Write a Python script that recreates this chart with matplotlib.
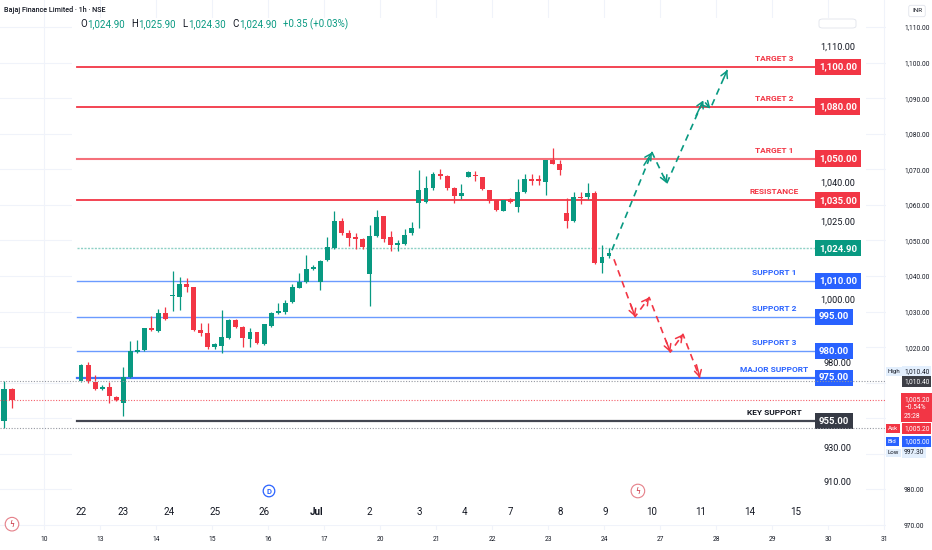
import numpy as np
import matplotlib.pyplot as plt
import matplotlib.transforms as mtransforms
from matplotlib.offsetbox import TextArea, HPacker, AnchoredOffsetbox
from matplotlib.patches import FancyBboxPatch

plt.rcParams['font.family'] = ['Roboto', 'DejaVu Sans']

#==============================================================================
#DATA
#==============================================================================

# inner chart: Bajaj Finance 1h candles, 22 Jun -> 9 Jul
inner_open = [973.6, 977.4, 973.1, 970.1, 970.8, 966.2, 963.4, 975.2, 979.8, 980.4,
              989.9, 988.6, 996.7, 1003.6, 1003.1, 1008.7, 1007.4, 989.0, 987.7, 981.7,
              982.1, 985.6, 993.7, 990.7, 985.1, 988.1, 983.0, 991.1, 996.7, 997.1,
              1001.0, 1007.0, 1009.6, 1015.4, 1009.6, 1019.5, 1024.9, 1030.6, 1028.1, 1027.0,
              1026.8, 1013.2, 1027.4, 1031.6, 1027.2, 1025.5, 1025.7, 1028.1, 1034.4, 1034.6,
              1039.3, 1044.3, 1043.6, 1039.3, 1036.4, 1043.2, 1043.9, 1043.2, 1038.6, 1035.0,
              1032.7, 1035.4, 1033.5, 1037.9, 1042.5, 1042.5, 1041.4, 1049.3, 1048.2, 1032.3,
              1030.6, 1036.1, 1036.1, 1037.5, 1018.1, 1021.3]
inner_high = [977.6, 978.0, 975.6, 971.7, 973.1, 966.6, 977.0, 984.3, 984.7, 989.9,
              995.4, 998.4, 998.9, 1014.5, 1011.8, 1011.4, 1007.4, 992.4, 992.4, 983.4,
              998.0, 994.1, 994.1, 991.1, 989.9, 988.1, 992.0, 997.1, 1000.6, 1001.9,
              1008.7, 1013.6, 1021.7, 1017.2, 1019.5, 1027.2, 1032.7, 1031.2, 1028.7, 1028.1,
              1027.0, 1029.7, 1032.9, 1031.6, 1028.5, 1026.6, 1028.9, 1030.4, 1045.7, 1043.6,
              1045.0, 1046.1, 1043.9, 1039.6, 1040.7, 1045.4, 1045.4, 1043.2, 1038.6, 1035.2,
              1035.2, 1035.7, 1042.5, 1044.6, 1044.6, 1043.9, 1049.6, 1055.8, 1049.3, 1035.7,
              1037.9, 1037.9, 1041.1, 1038.2, 1025.5, 1024.9]
inner_low = [973.1, 972.7, 969.4, 969.4, 963.4, 964.3, 957.3, 975.0, 979.6, 980.0,
             988.6, 988.1, 993.7, 997.6, 998.0, 1005.3, 988.6, 986.4, 980.9, 980.9,
             979.6, 985.1, 989.9, 981.7, 981.7, 983.0, 982.6, 990.7, 996.3, 996.3,
             1000.6, 1007.0, 1009.1, 1015.0, 1006.1, 1019.0, 1024.5, 1027.6, 1025.3, 1024.5,
             1024.5, 999.3, 1027.2, 1026.2, 1023.5, 1023.5, 1025.5, 1027.8, 1029.1, 1034.4,
             1038.6, 1042.5, 1038.6, 1034.4, 1035.4, 1043.2, 1042.1, 1038.6, 1034.4, 1032.7,
             1032.7, 1034.4, 1032.5, 1037.5, 1040.4, 1040.4, 1036.8, 1047.9, 1043.9, 1029.1,
             1030.4, 1034.2, 1035.4, 1017.7, 1013.6, 1020.4]
inner_close = [977.4, 973.6, 969.9, 970.8, 966.6, 964.8, 975.2, 980.0, 980.4, 989.9,
               989.0, 996.7, 994.1, 1004.0, 1008.7, 1007.4, 989.0, 987.7, 981.7, 983.0,
               986.0, 993.7, 990.3, 985.6, 988.1, 983.4, 991.6, 996.7, 997.6, 1000.6,
               1007.4, 1009.6, 1015.4, 1016.3, 1019.0, 1025.1, 1030.6, 1028.1, 1027.0, 1026.8,
               1025.1, 1027.4, 1031.4, 1026.8, 1025.5, 1025.9, 1027.8, 1029.1, 1038.6, 1039.3,
               1044.3, 1043.6, 1039.3, 1036.4, 1037.5, 1045.0, 1043.6, 1038.9, 1034.8, 1032.9,
               1035.0, 1034.6, 1037.9, 1042.5, 1041.8, 1042.1, 1049.6, 1048.2, 1045.7, 1030.6,
               1036.1, 1035.7, 1037.5, 1018.1, 1020.8, 1022.6]

inner_days = ['22', '23', '24', '25', '26', 'Jul', '2', '3', '4', '7', '8', '9', '10', '11', '14', '15']
inner_day_bars = [1, 7, 13.5, 20, 27, 34.5, 42, 49, 55.5, 62, 69, 75.5, 82, 89, 96, 102.5]

header_ohlc = [1024.90, 1025.90, 1024.30, 1024.90]
header_change = '+0.35 (+0.03%)'

level_names = ['TARGET 3', 'TARGET 2', 'TARGET 1', 'RESISTANCE', 'SUPPORT 1',
               'SUPPORT 2', 'SUPPORT 3', 'MAJOR SUPPORT', 'KEY SUPPORT']
level_prices = [1100, 1080, 1050, 1035, 1010, 995, 980, 975, 955]
level_kind = ['res', 'res', 'soft', 'res', 'sup', 'sup', 'sup', 'major', 'key']
last_price = 1024.90

inner_axis_prices = [1110, 1040, 1025, 1000, 980, 930, 910]

bull_x = [76.4, 82.1, 84.2, 89.4, 90.4, 92.8]
bull_y = [1024.0, 1053.5, 1041.1, 1083.1, 1078.8, 1098.5]
bear_x = [76.7, 79.7, 81.7, 84.7, 86.5, 88.9]
bear_y = [1019.9, 995.0, 1003.1, 979.8, 987.3, 975.0]

# outer chart
outer_bars = [-5, -4]
outer_open = [999.3, 1008.3]
outer_high = [1010.4, 1008.5]
outer_low = [997.3, 1003.0]
outer_close = [1008.3, 1005.2]
outer_days = ['10', '13', '14', '15', '16', '17', '20', '21', '22', '23', '24', '27', '28', '29', '30', '31']
outer_day_bars = list(range(0, 106, 7))
outer_ticks = [1110, 1100, 1090, 1080, 1070, 1060, 1050, 1040, 1030, 1020, 980, 970]
session_high = 1010.40
session_low = 997.30
last_outer = 1005.20
ask_price = 1005.20
bid_price = 1005.00
change_pct = '−0.54%'
countdown = '25:28'

#==============================================================================
#SETTINGS
#==============================================================================

UP = '#089981'
DOWN = '#f23645'
BLUE = '#2962ff'
DARK = '#131722'
KEY = '#363a45'
GRID = '#f0f3fa'

line_style = {'res': dict(color='#f23645', lw=1.3),
              'soft': dict(color='#f5707a', lw=1.5),
              'sup': dict(color='#6b9bff', lw=1.0),
              'major': dict(color='#3f73fb', lw=1.6),
              'key': dict(color='#434651', lw=1.6)}
box_color = {'res': '#f23645', 'soft': '#f23645', 'sup': BLUE, 'major': BLUE, 'key': KEY}
text_color = {'res': '#f23645', 'soft': '#f23645', 'sup': BLUE, 'major': BLUE, 'key': DARK}

W, H = 932, 550

# rows (px) where the inner chart prices sit, the inner scale is piecewise
scale_prices = [1124.5, 1110, 1100, 1080, 1050, 1035, 1024.9, 1010, 995, 980, 975, 955, 930, 910, 884.7]
scale_rows = [18, 47, 67, 106.5, 158.5, 200.3, 248.3, 281, 316.7, 351, 378, 421.3, 448.3, 482.3, 525]
axis_nudge_px = [0, 3, 26, 5, -12, 0, 0]


def frame(left, top, right, bottom):
    return [left / W, 1 - bottom / H, (right - left) / W, (bottom - top) / H]


def draw_candles(ax, x, o, h, l, c, width):
    o, h, l, c = map(np.asarray, (o, h, l, c))
    cols = np.where(c >= o, UP, DOWN)
    ax.vlines(x, l, h, colors=cols, lw=0.9, zorder=3)
    body = np.maximum(np.abs(c - o), 0.45)
    ax.bar(x, body, width, bottom=np.minimum(o, c), color=cols, lw=0, zorder=4)


#==============================================================================
#PLOT
#==============================================================================

fig = plt.figure(figsize=(W / 100, H / 100), dpi=100)
fig.patch.set_facecolor('white')

# ---- outer chart ----
ax_out = fig.add_axes(frame(0, 0, 886, 530))
ax_out.set_xlim(-5.5, 105.25)
ax_out.set_ylim(968.6, 1117.6)
for s in ax_out.spines.values():
    s.set_visible(False)
for v in range(970, 1111, 10):
    ax_out.axhline(v, color=GRID, lw=0.8, zorder=0)
for b in outer_day_bars:
    ax_out.axvline(b, color=GRID, lw=0.8, zorder=0)
draw_candles(ax_out, outer_bars, outer_open, outer_high, outer_low, outer_close, 0.7)

ax_out.yaxis.tick_right()
ax_out.set_yticks(outer_ticks)
ax_out.set_yticklabels([f'{v:,.2f}' for v in outer_ticks])
ax_out.tick_params(axis='y', length=0, pad=13, labelsize=4.8, labelcolor=DARK)
ax_out.set_xticks(outer_day_bars)
ax_out.set_xticklabels(outer_days)
ax_out.tick_params(axis='x', length=0, pad=4, labelsize=4.8, labelcolor=DARK)

tr_out = mtransforms.blended_transform_factory(ax_out.transAxes, ax_out.transData)


def outer_tag(price, s, fc, tc, x_px, dy_px=0, size=4.8):
    # dy_px > 0 moves the tag down from its price
    ax_out.annotate(s, (x_px / 886, price), xycoords=tr_out,
                    xytext=(0, -dy_px * 0.72), textcoords='offset points',
                    ha='left', va='center', fontsize=size, color=tc, annotation_clip=False,
                    bbox=dict(boxstyle='square,pad=0.3', fc=fc, ec='none'))


outer_tag(session_high, f'{session_high:,.2f}', '#e3effd', DARK, 904, dy_px=-10)
outer_tag(session_high, 'High', '#e3effd', DARK, 888, dy_px=-10, size=4.4)
outer_tag(session_high, f'{session_high:,.2f}', '#3d3f46', 'white', 904)
ax_out.annotate(f'{last_outer:,.2f}\n{change_pct}\n{countdown}', (904 / 886, last_outer),
                xycoords=tr_out, xytext=(0, 3), textcoords='offset points',
                ha='left', va='top', fontsize=4.8, color='white', linespacing=1.3,
                annotation_clip=False,
                bbox=dict(boxstyle='square,pad=0.4', fc=DOWN, ec='none'))
outer_tag(ask_price, f'{ask_price:,.2f}', DOWN, 'white', 904, dy_px=28.5)
outer_tag(ask_price, 'Ask', DOWN, 'white', 888, dy_px=28.5, size=4.4)
outer_tag(bid_price, f'{bid_price:,.2f}', BLUE, 'white', 904, dy_px=41)
outer_tag(bid_price, 'Bid', BLUE, 'white', 888, dy_px=41, size=4.4)
outer_tag(session_low, f'{session_low:,.2f}', '#e3effd', DARK, 904, dy_px=25)
outer_tag(session_low, 'Low', '#e3effd', DARK, 888, dy_px=25, size=4.4)

ax_out.text(-4, 0.011, 'ϟ', transform=mtransforms.blended_transform_factory(ax_out.transData, ax_out.transAxes),
            ha='center', va='center', fontsize=5.5, color='#c62838', family='DejaVu Sans', clip_on=False,
            bbox=dict(boxstyle='circle,pad=0.3', fc='white', ec='#e57f88', lw=0.8))

fig.text(4 / W, 1 - 10 / H, 'Bajaj Finance Limited · 1h · NSE', ha='left', va='center',
         fontsize=5.2, color=DARK, fontweight='medium')
fig.text(917 / W, 1 - 11 / H, 'INR', ha='center', va='center', fontsize=4.6, color=DARK,
         bbox=dict(boxstyle='round,pad=0.5,rounding_size=0.3', fc='white', ec='#e0e3eb', lw=0.6))

# ---- inner chart ----
ax_in = fig.add_axes(frame(72, 18, 866, 525), zorder=1)
ax_in.set_facecolor('white')
for s in ax_in.spines.values():
    s.set_visible(False)

sp = np.array(scale_prices)[::-1]
sr = -np.array(scale_rows, dtype=float)[::-1]


def fwd(p):
    return np.interp(np.asarray(p, dtype=float), sp, sr)


def inv(r):
    return np.interp(np.asarray(r, dtype=float), sr, sp)


ax_in.set_yscale('function', functions=(fwd, inv))
x_in = np.arange(1, len(inner_open) + 1)
draw_candles(ax_in, x_in, inner_open, inner_high, inner_low, inner_close, 0.7)
ax_in.set_xlim(-0.28, 112.5)
ax_in.set_ylim(scale_prices[-1], scale_prices[0])
ax_in.set_xticks([])
ax_in.set_yticks([])
ax_in.yaxis.set_minor_locator(plt.NullLocator())

tr_in = mtransforms.blended_transform_factory(ax_in.transAxes, ax_in.transData)
x0, x1 = (77 - 72) / 794, (815 - 72) / 794
box_x = (819 - 72) / 794
label_x = (774 - 72) / 794

for name, price, kind in zip(level_names, level_prices, level_kind):
    ax_in.axhline(price, xmin=x0, xmax=x1, zorder=2, **line_style[kind])
    ax_in.annotate(name, (label_x, price), xycoords=tr_in, xytext=(0, 3.5), textcoords='offset points',
                   ha='center', va='bottom', fontsize=6.0, fontweight='bold', color=text_color[kind])
    ax_in.text(box_x, price, f'{price:,.2f}', transform=tr_in, ha='left', va='center',
               fontsize=6.8, fontweight='bold', color='white', zorder=6,
               bbox=dict(boxstyle='square,pad=0.38', fc=box_color[kind], ec='none'))

ax_in.axhline(last_price, xmin=x0, xmax=x1, color=UP, lw=1.0, alpha=0.45, ls=(0, (1.5, 1)), zorder=2)
ax_in.text(box_x, last_price, f'{last_price:,.2f}', transform=tr_in, ha='left', va='center',
           fontsize=6.8, fontweight='bold', color='white', zorder=6,
           bbox=dict(boxstyle='square,pad=0.38', fc=UP, ec='none'))

for p, dy in zip(inner_axis_prices, axis_nudge_px):
    ax_in.annotate(f'{p:,.2f}', ((838 - 72) / 794, p), xycoords=tr_in, xytext=(0, dy * 0.72),
                   textcoords='offset points', ha='center', va='center', fontsize=6.6, color=DARK, zorder=1)

# projected paths
for px_, py_, col in [(bull_x, bull_y, UP), (bear_x, bear_y, DOWN)]:
    ax_in.plot(px_, py_, color=col, lw=1.2, ls=(0, (4, 3)), zorder=5)
    for i in range(len(px_) - 1):
        xs = px_[i] + 0.8 * (px_[i + 1] - px_[i])
        ys = py_[i] + 0.8 * (py_[i + 1] - py_[i])
        ax_in.annotate('', xy=(px_[i + 1], py_[i + 1]), xytext=(xs, ys),
                       arrowprops=dict(arrowstyle='->,head_length=0.45,head_width=0.25',
                                       color=col, lw=1.1, shrinkA=0, shrinkB=0), zorder=5)

tr_day = mtransforms.blended_transform_factory(ax_in.transData, ax_in.transAxes)
for b, lab in zip(inner_day_bars, inner_days):
    ax_in.text(b, (525 - 512) / 507, lab, transform=tr_day, ha='center', va='center',
               fontsize=7, color=DARK, fontweight='bold' if lab == 'Jul' else 'normal')

ax_in.text(27.7, (525 - 491) / 507, 'D', transform=tr_day, ha='center', va='center',
           fontsize=5.5, color=BLUE, fontweight='bold',
           bbox=dict(boxstyle='circle,pad=0.3', fc='white', ec=BLUE, lw=0.9))
ax_in.text(80.1, (525 - 491) / 507, 'ϟ', transform=tr_day, ha='center', va='center',
           fontsize=5.5, color='#c62838', family='DejaVu Sans',
           bbox=dict(boxstyle='circle,pad=0.3', fc='white', ec='#e57f88', lw=0.8))

fig.patches.append(FancyBboxPatch((819 / W, 1 - 28 / H), 37 / W, 9 / H,
                                  boxstyle='round,pad=0,rounding_size=0.004',
                                  transform=fig.transFigure, fc='white', ec='#e0e3eb', lw=0.6))

# OHLC header
parts = []
for letter, val in zip('OHLC', header_ohlc):
    parts.append(HPacker(children=[TextArea(letter, textprops=dict(color=DARK, size=7)),
                                   TextArea(f'{val:,.2f}', textprops=dict(color=UP, size=7))],
                         sep=0, pad=0))
parts.append(TextArea(header_change, textprops=dict(color=UP, size=7)))
header = AnchoredOffsetbox(loc='upper left', child=HPacker(children=parts, sep=5, pad=0),
                           pad=0, borderpad=0, frameon=False,
                           bbox_to_anchor=(80 / W, 1 - 18 / H), bbox_transform=fig.transFigure)
ax_in.add_artist(header)

# ---- last-price dotted lines drawn over everything ----
ax_top = fig.add_axes(frame(0, 0, 886, 530), zorder=2)
ax_top.set_xlim(ax_out.get_xlim())
ax_top.set_ylim(ax_out.get_ylim())
ax_top.patch.set_visible(False)
ax_top.axis('off')
ax_top.axhline(session_high, color='#9598a1', lw=0.8, ls=(0, (1, 1.5)))
ax_top.axhline(last_outer, color=DOWN, lw=0.8, ls=(0, (1, 1.5)), alpha=0.8)
ax_top.axhline(session_low, color='#9598a1', lw=0.8, ls=(0, (1, 1.5)))

fig.savefig('out.png', dpi=100)
